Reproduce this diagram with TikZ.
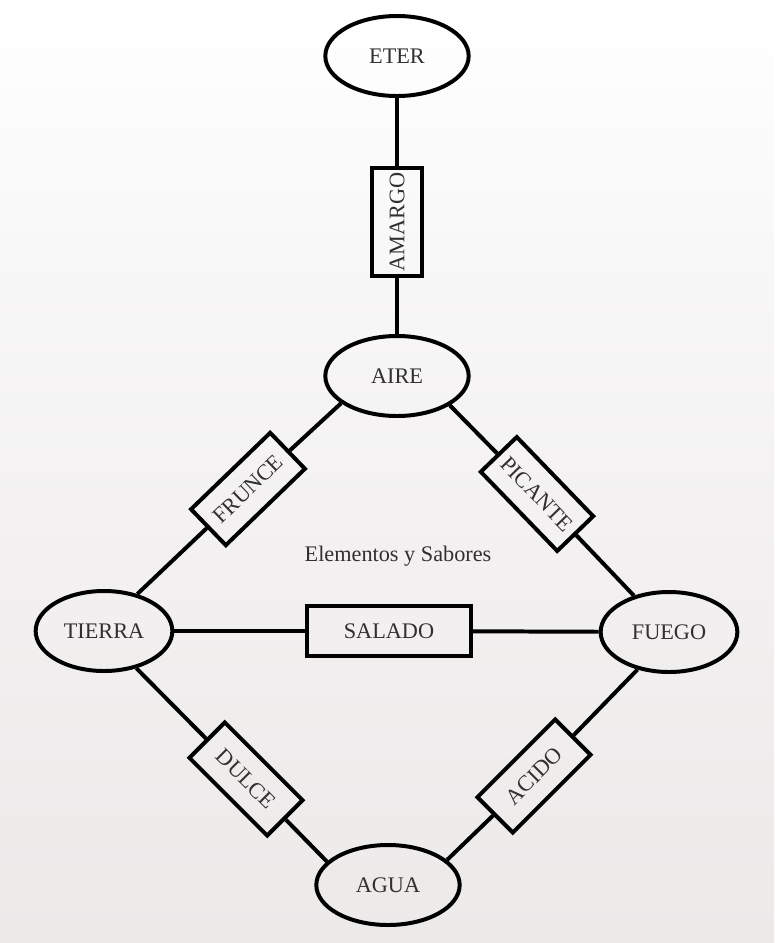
\documentclass[tikz,border=0pt]{standalone}
\usepackage{fontspec}
\setmainfont{Liberation Serif}
\usepackage{tikz}
\usetikzlibrary{shapes.geometric}
\definecolor{papel}{RGB}{236,233,233}
\definecolor{tinta}{RGB}{50,47,47}
\tikzstyle{elemento}=[ellipse, draw=black, line width=3.4pt, minimum width=4.3cm, minimum height=2.4cm, inner sep=0pt, text=tinta, font=\fontsize{19}{22}\selectfont]
\tikzstyle{sabor}=[rectangle, draw=black, line width=3.4pt, minimum width=3.3cm, minimum height=1.5cm, inner sep=2pt, text=tinta, font=\fontsize{19}{22}\selectfont]
\tikzstyle{linea}=[draw=black, line width=3.4pt]

\begin{document}
\begin{tikzpicture}[x=0.03cm, y=-0.03cm]
		   \useasboundingbox (0,0) rectangle (774,943);
		   \fill[top color=white, bottom color=papel, middle color=papel!60] (0,0) rectangle (774,943);
		   \begin{scope}
			   \node (eter) at (397, 56)[elemento] {ETER};
			   \node (aire) at (397, 376)[elemento] {AIRE};
			   \node (tierra) at (104, 631)[elemento, minimum width=4.1cm] {TIERRA};
			   \node (fuego) at (669, 632)[elemento, minimum width=4.1cm] {FUEGO};
			   \node (agua) at (388, 885)[elemento] {AGUA};
			   \node (amargo) at (397, 222)[sabor, rotate=90, minimum width=3.24cm] {AMARGO};
			   \node (frunce) at (248, 489)[sabor, rotate=44] {FRUNCE};
			   \node (picante) at (537, 494)[sabor, rotate=-46] {PICANTE};
			   \node (salado) at (389, 631)[sabor, minimum width=4.92cm] {SALADO};
			   \node (dulce) at (246, 779)[sabor, rotate=-45] {DULCE};
			   \node (acido) at (534, 776)[sabor, rotate=45] {ACIDO};
			   \node (titulo) at (398, 556)[text=tinta, font=\fontsize{19}{22}\selectfont] {Elementos y Sabores};
		   \end{scope}
		   \begin{scope}[every edge/.style={linea}]
			   \path [-] (eter) edge (amargo);
			   \path [-] (amargo) edge (aire);
			   \path [-] (aire.206) edge (frunce);
			   \path [-] (frunce) edge (tierra.48);
			   \path [-] (aire.331) edge (picante);
			   \path [-] (picante) edge (fuego.134);
			   \path [-] (tierra) edge (salado);
			   \path [-] (salado) edge (fuego);
			   \path [-] (tierra.311) edge (dulce);
			   \path [-] (dulce) edge (agua.159);
			   \path [-] (agua.23) edge (acido);
			   \path [-] (acido) edge (fuego.230);
		   \end{scope}
	   \end{tikzpicture}
\end{document}
